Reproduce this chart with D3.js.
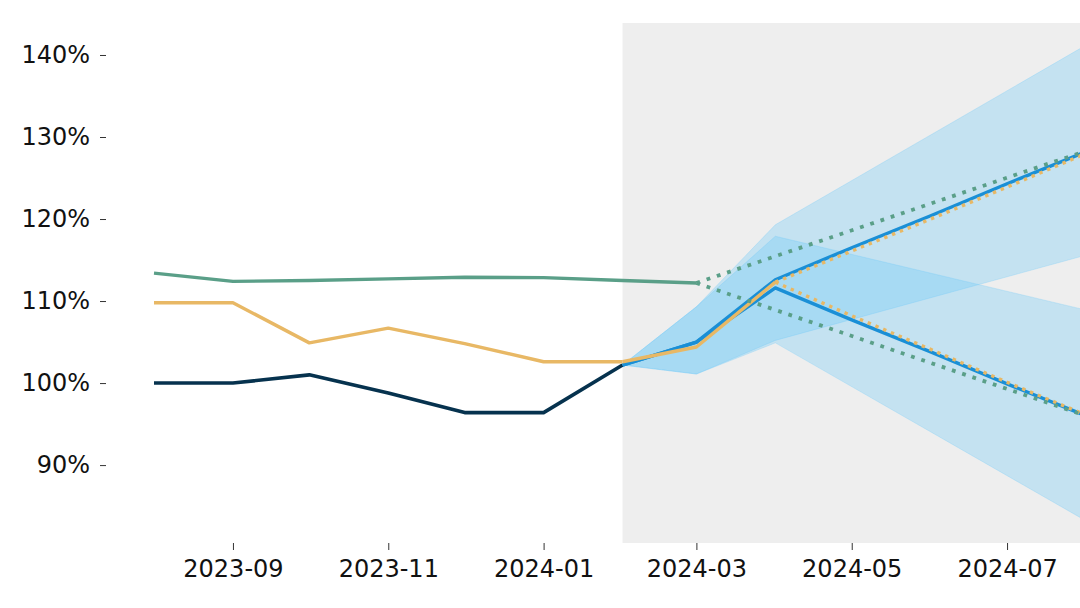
<!DOCTYPE html>
<html>
<head>
<meta charset="utf-8">
<script src="https://cdn.jsdelivr.net/npm/d3@7"></script>
<style>
  html, body { margin: 0; padding: 0; background: #fff; }
  svg { display: block; font-family: "DejaVu Sans", sans-serif; }
</style>
</head>
<body>
<div id="app"></div>
<script>
// 历史数据 (月份 -> 百分比)
const histMonths = ['2023-08', '2023-09', '2023-10', '2023-11', '2023-12', '2024-01', '2024-02'];
const navyVals = [100.0, 100.0, 101.0, 98.8, 96.4, 96.4, 102.2];
const orangeVals = [109.8, 109.8, 104.9, 106.7, 104.8, 102.6, 102.6];
const greenMonths = ['2023-08', '2023-09', '2023-10', '2023-11', '2023-12', '2024-01', '2024-02', '2024-03'];
const greenVals = [113.4, 112.4, 112.5, 112.7, 112.9, 112.85, 112.5, 112.2];

// 预测部分
const fcMonths = ['2024-02', '2024-03', '2024-04', '2024-05', '2024-06', '2024-07', '2024-08'];
const blueUpper = [102.2, 105.0, 112.6, 116.5, 120.4, 124.3, 128.2];
const blueLower = [102.2, 105.0, 111.6, 107.7, 103.8, 99.9, 96.0];
const orangeFcMonths = ['2024-02', '2024-03', '2024-04'];
const orangeFcVals = [102.6, 104.4, 112.3];
const orangeSplitMonths = ['2024-04', '2024-05', '2024-06', '2024-07', '2024-08'];
const orangeUpper = [112.3, 116.1, 120.0, 123.9, 128.0];
const orangeLower = [112.3, 108.2, 104.1, 100.1, 96.1];
const greenDotMonths = ['2024-03', '2024-08'];
const greenDotUpper = [112.2, 128.3];
const greenDotLower = [112.2, 96.0];

// 置信区间
const bandMonths = ['2024-02', '2024-03', '2024-04', '2024-08'];
const bandUpHi = [102.2, 109.3, 119.3, 141.2];
const bandUpLo = [102.2, 101.1, 105.2, 115.6];
const bandLoHi = [102.2, 109.3, 117.9, 108.9];
const bandLoLo = [102.2, 101.1, 104.9, 83.2];

const shadeStart = '2024-02';
const yTicks = [90, 100, 110, 120, 130, 140];
const xTicks = ['2023-09', '2023-11', '2024-01', '2024-03', '2024-05', '2024-07'];

const W = 1080, H = 608;
const parse = d3.timeParse('%Y-%m');
const fmt = d3.timeFormat('%Y-%m');

const x = d3.scaleTime().domain([parse('2023-08'), parse('2024-08')]).range([154, 1086]);
const y = d3.scaleLinear().domain([80.5, 143.9]).range([543, 23]);

const svg = d3.select('#app').append('svg').attr('width', W).attr('height', H);

// 灰色预测区域背景
svg.append('rect')
  .attr('x', x(parse(shadeStart)))
  .attr('y', y(143.9))
  .attr('width', W - x(parse(shadeStart)))
  .attr('height', y(80.5) - y(143.9))
  .attr('fill', '#eeeeee');

const zip = (months, vals) => months.map((m, i) => ({ d: parse(m), v: vals[i] }));
const line = d3.line().x(p => x(p.d)).y(p => y(p.v));
const area = d3.area().x(p => x(p.d)).y0(p => y(p.lo)).y1(p => y(p.hi));

const bandData = (hi, lo) => bandMonths.map((m, i) => ({ d: parse(m), hi: hi[i], lo: lo[i] }));
[[bandUpHi, bandUpLo], [bandLoHi, bandLoLo]].forEach(([hi, lo]) => {
  svg.append('path')
    .attr('d', area(bandData(hi, lo)))
    .attr('fill', 'rgb(100,200,250)')
    .attr('fill-opacity', 0.3)
    .attr('stroke', 'rgb(100,200,250)')
    .attr('stroke-opacity', 0.25)
    .attr('stroke-width', 1);
});

const drawLine = (data, color, width, dash) => {
  const p = svg.append('path')
    .attr('d', line(data))
    .attr('fill', 'none')
    .attr('stroke', color)
    .attr('stroke-width', width)
    .attr('stroke-linejoin', 'round');
  if (dash) p.attr('stroke-dasharray', dash);
  return p;
};

drawLine(zip(histMonths, navyVals), '#06324e', 3.6);
drawLine(zip(fcMonths, blueUpper), '#1a8fd6', 3.4);
drawLine(zip(fcMonths, blueLower), '#1a8fd6', 3.4);
drawLine(zip(histMonths, orangeVals), '#e8b865', 3.4);
drawLine(zip(orangeFcMonths, orangeFcVals), '#e8b865', 3.4);
drawLine(zip(orangeSplitMonths, orangeUpper), '#e8b865', 3.4, '3.4 5');
drawLine(zip(orangeSplitMonths, orangeLower), '#e8b865', 3.4, '3.4 5');
drawLine(zip(greenMonths, greenVals), '#5a9f88', 3.4);
drawLine(zip(greenDotMonths, greenDotUpper), '#5a9f88', 3.8, '3.8 7');
drawLine(zip(greenDotMonths, greenDotLower), '#5a9f88', 3.8, '3.8 7');

// y 轴
const yAxis = svg.append('g')
  .attr('transform', 'translate(106,0)')
  .call(d3.axisLeft(y).tickValues(yTicks).tickSize(6).tickPadding(10).tickFormat(d => d + '%'));
yAxis.select('.domain').remove();
yAxis.selectAll('line').attr('stroke', '#333');
yAxis.selectAll('text').attr('font-size', '24px').attr('fill', '#111').attr('font-family', '"DejaVu Sans", sans-serif');

// x 轴
const xAxis = svg.append('g')
  .attr('transform', 'translate(0,543)')
  .call(d3.axisBottom(x).tickValues(xTicks.map(parse)).tickSize(7).tickPadding(10).tickFormat(fmt));
xAxis.select('.domain').remove();
xAxis.selectAll('line').attr('stroke', '#333');
xAxis.selectAll('text').attr('font-size', '24px').attr('fill', '#111').attr('font-family', '"DejaVu Sans", sans-serif');
</script>
</body>
</html>
